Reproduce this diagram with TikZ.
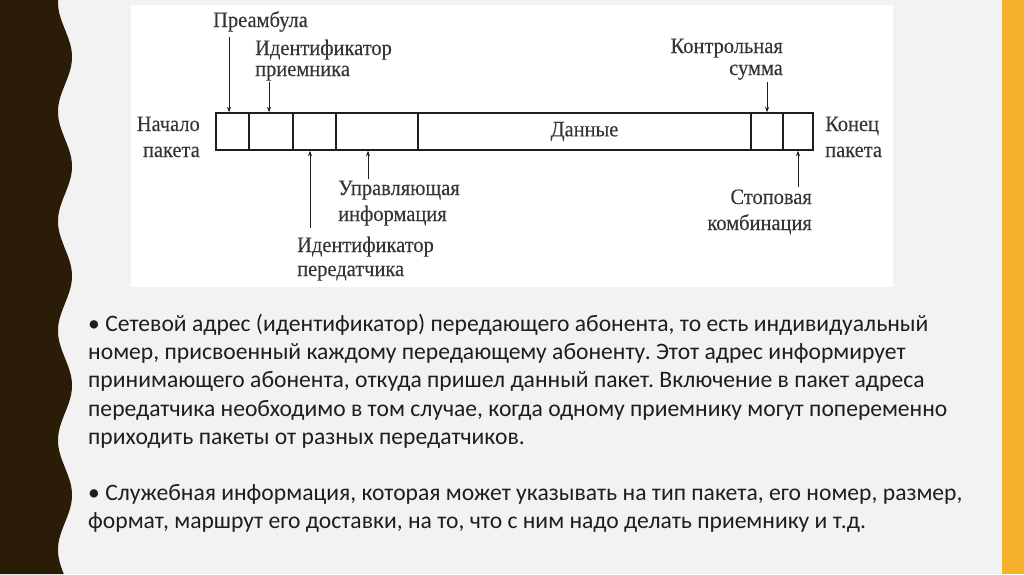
\documentclass[tikz,border=0pt]{standalone}
\usepackage{fontspec}
\setmainfont{Liberation Serif}
\newfontfamily\lblfont[FakeStretch=0.93,FakeBold=0.2]{Liberation Serif}
\newfontfamily\bodyfont{Carlito}
\usetikzlibrary{arrows.meta}
\definecolor{bggray}{HTML}{F2F2F2}
\definecolor{darkband}{HTML}{2B1C07}
\definecolor{orangeband}{HTML}{F5B12A}
\definecolor{ink}{HTML}{1E1E1E}
\frenchspacing
\begin{document}
\begin{tikzpicture}[x=1pt,y=-1pt,
  cell/.style={draw=ink, line width=1.4pt, inner sep=0pt, minimum height=37pt},
  lbl/.style={font=\lblfont\fontsize{22}{24}\selectfont, text=ink!90, inner sep=0pt},
  arr/.style={line width=0.9pt, draw=ink, -{Stealth[length=5.5pt,width=4pt]}},
  body/.style={font=\bodyfont\fontsize{23.6}{28}\selectfont, text=ink, inner sep=0pt, anchor=base west}]
\useasboundingbox (0,0) rectangle (1024,574);
% background
\fill[bggray] (0,0) rectangle (1024,574);
\fill[orangeband] (1002,0) rectangle (1024,574);
\fill[darkband] (0,0) -- plot[domain=0:574, samples=220, smooth] ({65+7*cos(3.28767*(\x-57))},\x) -- (0,574) -- cycle;
% white panel
\fill[white] (131,5) rectangle (893,287);
% packet cells
\node[cell, minimum width=33pt] (c1) at (232.5,131.5) {};
\node[cell, minimum width=44pt] (c2) at (271,131.5) {};
\node[cell, minimum width=43pt] (c3) at (314.5,131.5) {};
\node[cell, minimum width=82pt] (c4) at (377,131.5) {};
\node[cell, minimum width=333pt, lbl] (c5) at (584.5,131.5) {Данные};
\node[cell, minimum width=32pt] (c6) at (767,131.5) {};
\node[cell, minimum width=30pt] (c7) at (798,131.5) {};
% labels
\node[lbl, anchor=base west] (pre) at (213,27) {Преамбула};
\node[lbl, anchor=base west] (idr1) at (255,55) {Идентификатор};
\node[lbl, anchor=base west] (idr2) at (255,76) {приемника};
\node[lbl, anchor=base east] (cs1) at (783,53) {Контрольная};
\node[lbl, anchor=base east] (cs2) at (783,75) {сумма};
\node[lbl, anchor=base east] (st1) at (200,131) {Начало};
\node[lbl, anchor=base east] (st2) at (200,157) {пакета};
\node[lbl, anchor=base west] (en1) at (825,131) {Конец};
\node[lbl, anchor=base west] (en2) at (825,157) {пакета};
\node[lbl, anchor=base west] (up1) at (338,195) {Управляющая};
\node[lbl, anchor=base west] (up2) at (338,221) {информация};
\node[lbl, anchor=base west] (idt1) at (297,252) {Идентификатор};
\node[lbl, anchor=base west] (idt2) at (297,276) {передатчика};
\node[lbl, anchor=base east] (sp1) at (812,204) {Стоповая};
\node[lbl, anchor=base east] (sp2) at (812,230) {комбинация};
% arrow start points
\coordinate (apre) at (229,37);
\coordinate (aidr) at (269,82);
\coordinate (acs) at (767,82);
\coordinate (aidt) at (310,228);
\coordinate (aup) at (368,179);
\coordinate (asp) at (798,187);
\draw[arr] (apre) -- (apre |- c1.north);
\draw[arr] (aidr) -- (aidr |- c2.north);
\draw[arr] (acs) -- (acs |- c6.north);
\draw[arr] (aidt) -- (aidt |- c3.south);
\draw[arr] (aup) -- (aup |- c4.south);
\draw[arr] (asp) -- (asp |- c7.south);
% body text
\node[body] (b1) at (88,331) {• Сетевой адрес (идентификатор) передающего абонента, то есть индивидуальный};
\node[body] (b2) at (88,359.3) {номер, присвоенный каждому передающему абоненту. Этот адрес информирует};
\node[body] (b3) at (88,387.6) {принимающего абонента, откуда пришел данный пакет. Включение в пакет адреса};
\node[body] (b4) at (88,416) {передатчика необходимо в том случае, когда одному приемнику могут попеременно};
\node[body] (b5) at (88,444.3) {приходить пакеты от разных передатчиков.};
\node[body] (b6) at (88,500) {• Служебная информация, которая может указывать на тип пакета, его номер, размер,};
\node[body] (b7) at (88,528.3) {формат, маршрут его доставки, на то, что с ним надо делать приемнику и т.д.};
\end{tikzpicture}
\end{document}
